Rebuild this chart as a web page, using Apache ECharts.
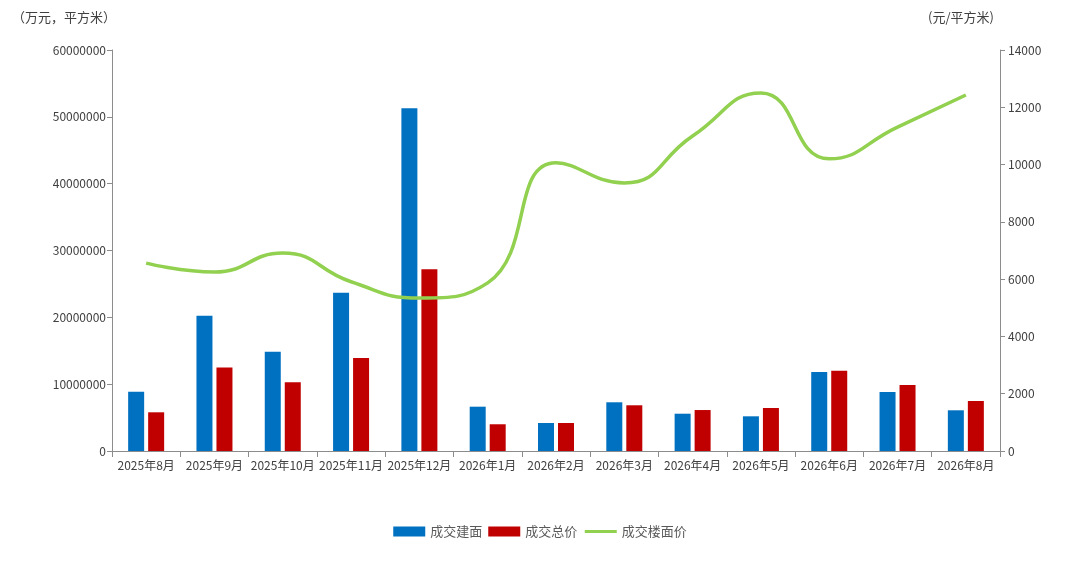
<!DOCTYPE html>
<html><head><meta charset="utf-8">
<script src="https://cdn.jsdelivr.net/npm/echarts@6/dist/echarts.min.js"></script>
<style>html,body{margin:0;padding:0;background:#fff}#c{width:1080px;height:565px}</style>
</head><body><div id="c"></div>
<script>
const categories = ['2025年8月','2025年9月','2025年10月','2025年11月','2025年12月','2026年1月','2026年2月','2026年3月','2026年4月','2026年5月','2026年6月','2026年7月','2026年8月'];
const area = [8870000,20250000,14860000,23690000,51300000,6630000,4190000,7290000,5580000,5190000,11820000,8830000,6090000];
const total = [5790000,12500000,10280000,13920000,27200000,4000000,4190000,6840000,6130000,6430000,12020000,9880000,7480000];
const price = [6560,6250,6910,5910,5340,5870,10060,9360,11000,12500,10200,11310,12430];
const font = '"Noto Sans CJK SC", "Noto Sans", sans-serif';
const chart = echarts.init(document.getElementById('c'));
chart.setOption({
  animation:false,
  textStyle:{fontFamily:font},
  grid:{left:112,right:80,top:50,bottom:114},
  legend:{bottom:22,left:'center',itemWidth:32,itemHeight:10,itemGap:6,
    textStyle:{fontSize:13,color:'#595959',fontFamily:font},
    data:[{name:'成交建面',icon:'rect'},{name:'成交总价',icon:'rect'},
          {name:'成交楼面价',itemStyle:{opacity:0},lineStyle:{width:3}}]},
  xAxis:{type:'category',data:categories,
    axisLine:{lineStyle:{color:'#8c8c8c'}},
    axisTick:{show:true,length:6,lineStyle:{color:'#8c8c8c'}},
    axisLabel:{color:'#404040',fontSize:12,margin:8,interval:0}},
  yAxis:[
    {type:'value',min:0,max:60000000,interval:10000000,name:'（万元，平方米）',
     nameLocation:'end',nameGap:26,nameTextStyle:{color:'#404040',fontSize:13,align:'right',padding:[0,-4,0,0]},
     axisLine:{show:true,lineStyle:{color:'#8c8c8c'}},axisTick:{show:true,length:5,lineStyle:{color:'#8c8c8c'}},
     splitLine:{show:false},axisLabel:{color:'#404040',fontSize:12,margin:6,formatter:v=>String(v)}},
    {type:'value',min:0,max:14000,interval:2000,name:'(元/平方米)',position:'right',
     nameLocation:'end',nameGap:26,nameTextStyle:{color:'#404040',fontSize:13,align:'right',padding:[0,6,0,0]},
     axisLine:{show:true,lineStyle:{color:'#8c8c8c'}},axisTick:{show:true,length:5,lineStyle:{color:'#8c8c8c'}},
     splitLine:{show:false},axisLabel:{color:'#404040',fontSize:12,margin:8,formatter:v=>String(v)}}
  ],
  series:[
    {name:'成交建面',type:'bar',data:area,barWidth:16,barGap:'25%',itemStyle:{color:'#0070C0'}},
    {name:'成交总价',type:'bar',data:total,barWidth:16,barGap:'25%',itemStyle:{color:'#C00000'}},
    {name:'成交楼面价',type:'line',yAxisIndex:1,data:price,smooth:0.5,symbol:'none',
     lineStyle:{color:'#92D050',width:3.5},itemStyle:{color:'#92D050'}}
  ]
});
</script></body></html>
